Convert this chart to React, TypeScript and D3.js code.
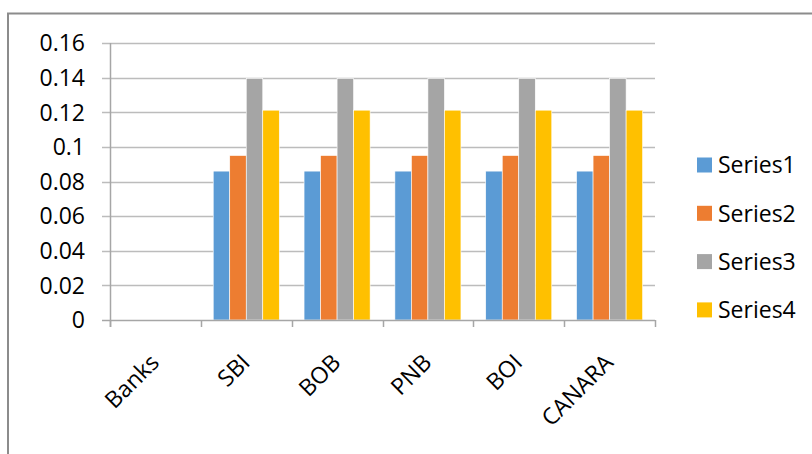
import React, { useRef, useEffect } from "react";
import * as d3 from "d3";

const width = 812;
const height = 454;

const categories = ["Banks", "SBI", "BOB", "PNB", "BOI", "CANARA"];
const seriesNames = ["Series1", "Series2", "Series3", "Series4"];
const series1 = [0, 0.086, 0.086, 0.086, 0.086, 0.086];
const series2 = [0, 0.095, 0.095, 0.095, 0.095, 0.095];
const series3 = [0, 0.1395, 0.1395, 0.1395, 0.1395, 0.1395];
const series4 = [0, 0.1212, 0.1212, 0.1212, 0.1212, 0.1212];
const yTicks = [0, 0.02, 0.04, 0.06, 0.08, 0.1, 0.12, 0.14, 0.16];

const colors = ["#5b9bd5", "#ed7d31", "#a5a5a5", "#ffc000"];
const font = "'Open Sans', 'Liberation Sans', sans-serif";
const fontSize = 23;

export default function App() {
  const ref = useRef<SVGSVGElement | null>(null);

  useEffect(() => {
    const svg = d3.select(ref.current);
    svg.selectAll("*").remove();

    const allSeries = [series1, series2, series3, series4];

    // chart area border (runs off the right and bottom edges)
    svg
      .append("rect")
      .attr("x", 8)
      .attr("y", 13.5)
      .attr("width", 900)
      .attr("height", 600)
      .attr("fill", "#fff")
      .attr("stroke", "#8c8c8c")
      .attr("stroke-width", 2);

    const x = d3.scaleBand().domain(categories).range([110, 655]).padding(0);
    const bw = x.bandwidth();
    const barW = bw / 5.5;
    const x1 = d3
      .scaleBand()
      .domain(seriesNames)
      .range([barW * 0.75, bw - barW * 0.75])
      .padding(0);

    const y = d3.scaleLinear().domain([0, 0.16]).range([320, 43]);

    // gridlines
    svg
      .append("g")
      .selectAll("line")
      .data(yTicks.slice(1))
      .enter()
      .append("line")
      .attr("x1", 102)
      .attr("x2", 655)
      .attr("y1", (d) => Math.round(y(d)) + 0.5)
      .attr("y2", (d) => Math.round(y(d)) + 0.5)
      .attr("stroke", "#bcbcbc")
      .attr("stroke-width", 1.5);

    // y tick labels
    svg
      .append("g")
      .selectAll("text")
      .data(yTicks)
      .enter()
      .append("text")
      .attr("x", 85)
      .attr("y", (d) => y(d))
      .attr("dy", "0.36em")
      .attr("text-anchor", "end")
      .attr("font-family", font)
      .attr("font-size", fontSize)
      .attr("fill", "#000")
      .text((d) => String(d));

    // bars
    const groups = svg
      .append("g")
      .selectAll("g")
      .data(categories)
      .enter()
      .append("g")
      .attr("transform", (d) => `translate(${x(d)},0)`);

    groups
      .selectAll("rect")
      .data((_, i) => seriesNames.map((s, k) => ({ s, k, v: allSeries[k][i] })))
      .enter()
      .append("rect")
      .attr("x", (d) => x1(d.s)!)
      .attr("y", (d) => y(d.v))
      .attr("width", x1.bandwidth())
      .attr("height", (d) => y(0) - y(d.v))
      .attr("fill", (d) => colors[d.k])
      .attr("stroke", "#fff")
      .attr("stroke-width", 0.6);

    // y axis line
    svg
      .append("line")
      .attr("x1", 110.5)
      .attr("x2", 110.5)
      .attr("y1", 43)
      .attr("y2", 327)
      .attr("stroke", "#a6a6a6")
      .attr("stroke-width", 1.5);

    // x axis line + ticks
    svg
      .append("line")
      .attr("x1", 102)
      .attr("x2", 655)
      .attr("y1", y(0) + 0.5)
      .attr("y2", y(0) + 0.5)
      .attr("stroke", "#a6a6a6")
      .attr("stroke-width", 1.5);

    const tickPos = categories.map((c) => x(c)!).concat([655]);
    svg
      .append("g")
      .selectAll("line")
      .data(tickPos)
      .enter()
      .append("line")
      .attr("x1", (d) => Math.round(d) + 0.5)
      .attr("x2", (d) => Math.round(d) + 0.5)
      .attr("y1", 320)
      .attr("y2", 327)
      .attr("stroke", "#a6a6a6")
      .attr("stroke-width", 1.5);

    // category labels
    svg
      .append("g")
      .selectAll("text")
      .data(categories)
      .enter()
      .append("text")
      .attr(
        "transform",
        (d) => `translate(${x(d)! + bw / 2 + 5},${364}) rotate(-45)`
      )
      .attr("text-anchor", "end")
      .attr("font-family", font)
      .attr("font-size", fontSize)
      .attr("fill", "#000")
      .text((d) => d);

    // legend
    const legend = svg
      .append("g")
      .selectAll("g")
      .data(seriesNames)
      .enter()
      .append("g")
      .attr("transform", (_, i) => `translate(697,${165 + i * 48.3})`);

    legend
      .append("rect")
      .attr("x", 0)
      .attr("y", -7.5)
      .attr("width", 15)
      .attr("height", 15)
      .attr("fill", (_, i) => colors[i]);

    legend
      .append("text")
      .attr("x", 21)
      .attr("y", 0)
      .attr("dy", "0.36em")
      .attr("font-family", font)
      .attr("font-size", fontSize)
      .attr("fill", "#000")
      .text((d) => d);
  }, []);

  return (
    <div style={{ position: "absolute", left: 0, top: 0, width, height, overflow: "hidden" }}>
      <svg ref={ref} width={width} height={height} style={{ display: "block" }} />
    </div>
  );
}
